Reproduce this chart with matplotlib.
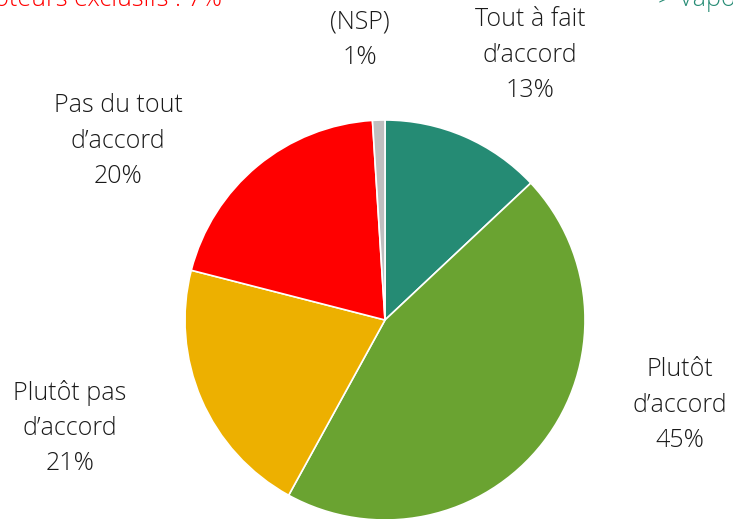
import matplotlib.pyplot as plt

# pie data, clockwise from 12 o'clock
labels = ['Tout à fait\nd’accord\n13%', 'Plutôt\nd’accord\n45%', 'Plutôt pas\nd’accord\n21%',
          'Pas du tout\nd’accord\n20%', '(NSP)\n1%']
values = [13, 45, 21, 20, 1]
colors = ['#258B74', '#6AA331', '#EDB000', '#FF0000', '#BFBFBF']
# label centres in pixels from top-left
label_pos = [(530, 55), (680, 405), (70, 428), (118, 141), (360, 40)]

plt.rcParams['font.family'] = ['Open Sans', 'DejaVu Sans']

W, H = 733, 519
fig = plt.figure(figsize=(W / 100, H / 100), dpi=100)
ax = fig.add_axes([0, 0, 1, 1])

ax.pie(values, colors=colors, startangle=90, counterclock=False,
       center=(385, H - 320), radius=200, frame=True,
       wedgeprops=dict(edgecolor='white', linewidth=1.2))
ax.set_xlim(0, W)
ax.set_ylim(0, H)
ax.axis('off')

for lab, (x, y) in zip(labels, label_pos):
    ax.text(x, H - y, lab, ha='center', va='center', fontsize=18, color='#1a1a1a',
            linespacing=1.55, fontweight='light')

# texts cut off at the top edge, as in the original
ax.text(222, H + 1, 'Vapoteurs exclusifs : 7%', ha='right', va='center', fontsize=18,
        color='#FF0000', fontweight='light')
ax.text(658, H + 1, '> Vapoteurs', ha='left', va='center', fontsize=18,
        color='#258B74', fontweight='light')

plt.savefig('out.png', dpi=100)
